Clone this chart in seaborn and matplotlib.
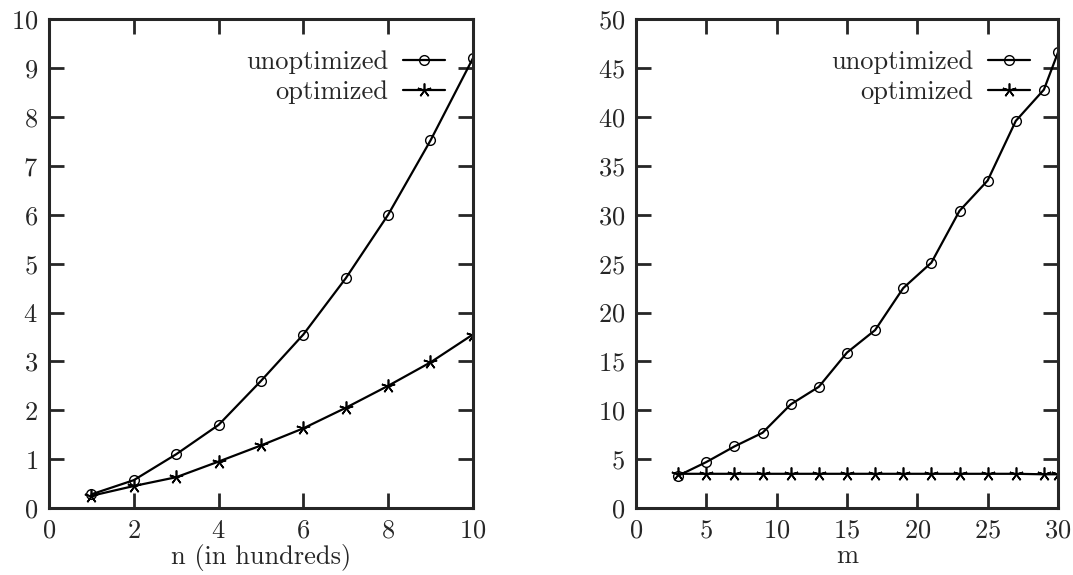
import pandas as pd
import matplotlib.pyplot as plt
import seaborn as sns

# Left panel: time vs n (in hundreds)
n_values = [1, 2, 3, 4, 5, 6, 7, 8, 9, 10]
n_unoptimized = [0.28, 0.57, 1.10, 1.70, 2.60, 3.55, 4.70, 6.00, 7.52, 9.20]
n_optimized = [0.25, 0.45, 0.63, 0.95, 1.28, 1.63, 2.05, 2.50, 2.98, 3.55]

# Right panel: time vs m
m_values = [3, 5, 7, 9, 11, 13, 15, 17, 19, 21, 23, 25, 27, 29, 30]
m_unoptimized = [3.3, 4.7, 6.3, 7.7, 10.6, 12.4, 15.9, 18.2, 22.5, 25.1,
                 30.4, 33.5, 39.6, 42.8, 46.6]
m_optimized = [3.5, 3.5, 3.5, 3.5, 3.5, 3.5, 3.5, 3.5, 3.5, 3.5,
               3.5, 3.5, 3.5, 3.45, 3.45]

sns.set_style('ticks')
plt.rcParams['font.family'] = ['cmr10', 'DejaVu Serif']
plt.rcParams['axes.formatter.use_mathtext'] = True
plt.rcParams['font.size'] = 19

star = (5, 2, 0)


def draw_panel(ax, x, unopt, opt, xlabel, xlim, ylim, xticks, yticks):
    df = pd.DataFrame({'x': x, 'unoptimized': unopt, 'optimized': opt})
    sns.lineplot(data=df, x='x', y='unoptimized', label='unoptimized',
                 color='black', linewidth=1.6, marker='o', markersize=7,
                 markerfacecolor='none', markeredgecolor='black',
                 markeredgewidth=1.0, ax=ax)
    sns.lineplot(data=df, x='x', y='optimized', label='optimized',
                 color='black', linewidth=1.6, marker=star, markersize=10,
                 markeredgecolor='black', markeredgewidth=1.2, ax=ax)
    ax.set_xlim(*xlim)
    ax.set_ylim(*ylim)
    ax.set_xticks(xticks)
    ax.set_yticks(yticks)
    ax.set_xlabel(xlabel, fontsize=19, labelpad=1)
    ax.set_ylabel('')
    ax.tick_params(direction='in', top=True, right=True, length=11, width=2,
                   labelsize=19, pad=8)
    for s in ax.spines.values():
        s.set_linewidth(2.2)
    ax.legend(loc='upper right', bbox_to_anchor=(0.934, 0.937),
              frameon=False, markerfirst=False, fontsize=19,
              handlelength=1.6, handletextpad=0.55, labelspacing=0.25,
              borderaxespad=0, borderpad=0)


fig = plt.figure(figsize=(10.73, 5.75), dpi=100)
ax1 = fig.add_axes([0.0457, 0.1165, 0.395, 0.850])
ax2 = fig.add_axes([0.5927, 0.1165, 0.3933, 0.850])

draw_panel(ax1, n_values, n_unoptimized, n_optimized, 'n (in hundreds)',
           (0, 10), (0, 10), range(0, 11, 2), range(0, 11))
draw_panel(ax2, m_values, m_unoptimized, m_optimized, 'm',
           (0, 30), (0, 50), range(0, 31, 5), range(0, 51, 5))

fig.savefig('out.png', dpi=100)
